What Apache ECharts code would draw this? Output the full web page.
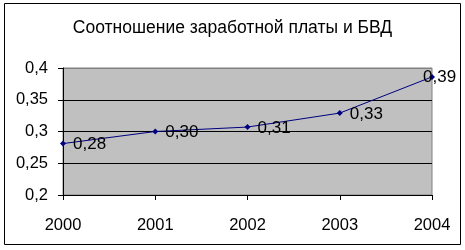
<!DOCTYPE html>
<html>
<head>
<meta charset="utf-8">
<script src="https://cdn.jsdelivr.net/npm/echarts@6/dist/echarts.min.js"></script>
<style>
html,body{margin:0;padding:0;background:#fff;}
#c{width:465px;height:250px;}
</style>
</head>
<body>
<div id="c"></div>
<script>
const titleText = 'Соотношение заработной платы и БВД';
const years = ['2000', '2001', '2002', '2003', '2004'];
const ratio = [0.281, 0.300, 0.307, 0.329, 0.386];
const yMin = 0.2, yMax = 0.4, yStep = 0.05;

const FONT = "Arial, 'Liberation Sans', sans-serif";
const fmt = v => v.toFixed(2).replace('.', ',');

const seriesData = ratio.map((v, i) => {
  const d = { value: v };
  if (i === ratio.length - 1) d.label = { offset: [-19, 0] };
  return d;
});

const chart = echarts.init(document.getElementById('c'), null, { renderer: 'canvas' });
chart.setOption({
  animation: false,
  backgroundColor: '#fff',
  title: {
    text: titleText,
    left: 'center',
    top: 14,
    textStyle: { fontFamily: FONT, fontSize: 17.5, fontWeight: 'normal', color: '#000' }
  },
  graphic: [{
    type: 'rect',
    shape: { x: 4.5, y: 3.5, width: 456, height: 241 },
    style: { fill: 'none', stroke: '#000', lineWidth: 1 },
    z: 100
  }],
  grid: {
    left: 63, right: 33, top: 68, bottom: 55,
    show: true,
    backgroundColor: '#C0C0C0',
    borderColor: '#808080',
    borderWidth: 1
  },
  xAxis: {
    type: 'category',
    data: years,
    boundaryGap: false,
    axisLine: { lineStyle: { color: '#000', width: 1 } },
    axisTick: { show: true, length: 5, lineStyle: { color: '#000' } },
    axisLabel: { fontFamily: FONT, fontSize: 16.5, color: '#000', margin: 22 },
    splitLine: { show: false }
  },
  yAxis: {
    type: 'value',
    min: yMin, max: yMax, interval: yStep,
    axisLine: { show: true, lineStyle: { color: '#000', width: 1 } },
    axisTick: { show: true, length: 5, lineStyle: { color: '#000' } },
    axisLabel: {
      fontFamily: FONT, fontSize: 16.5, color: '#000', margin: 15,
      formatter: v => String(+v.toFixed(2)).replace('.', ',')
    },
    splitLine: { show: true, lineStyle: { color: ['#000', '#000', '#000', '#000', '#808080'], width: 1 } }
  },
  series: [{
    type: 'line',
    data: seriesData,
    symbol: 'diamond',
    symbolSize: 6,
    itemStyle: { color: '#000080' },
    lineStyle: { color: '#000080', width: 1 },
    label: {
      show: true,
      position: 'right',
      distance: 7,
      offset: [0, 1],
      fontFamily: FONT,
      fontSize: 17,
      color: '#000',
      formatter: p => fmt(p.value)
    }
  }]
});
</script>
</body>
</html>
